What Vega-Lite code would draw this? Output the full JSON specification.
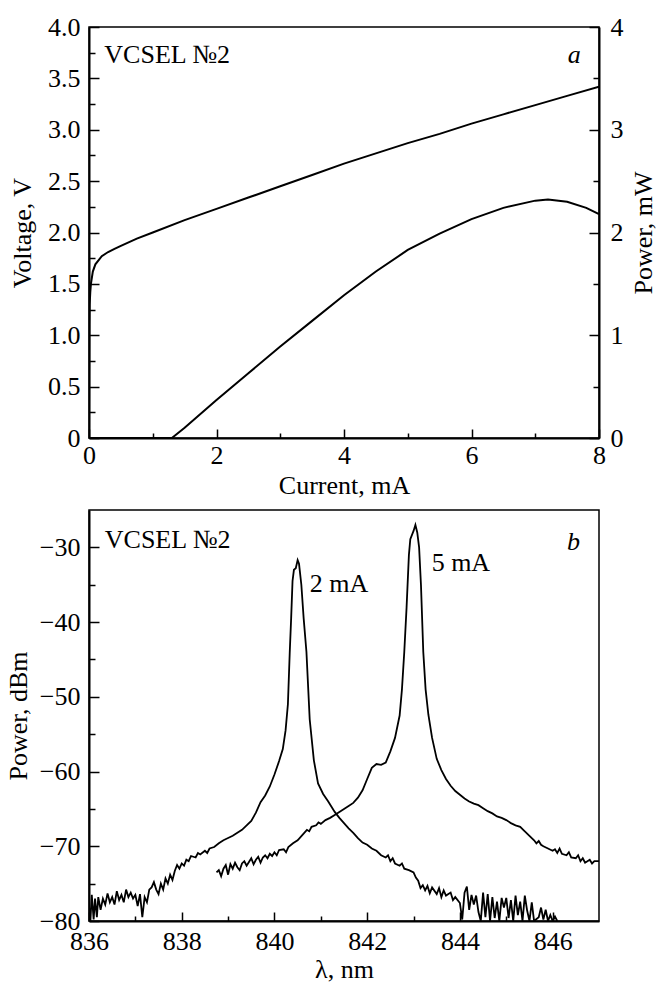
{
  "$schema": "https://vega.github.io/schema/vega-lite/v6.json",
  "autosize": {"type": "pad"},
  "padding": {"left": 4, "top": 13, "right": 0, "bottom": 0},
  "background": "white",
  "spacing": 72,
  "bounds": "flush",
  "config": {
    "font": "Liberation Serif",
    "view": {"stroke": "black", "strokeWidth": 1.5},
    "axis": {
      "domainColor": "black", "domainWidth": 2, "tickColor": "black", "tickWidth": 1.5,
      "labelFont": "Liberation Serif", "labelFontSize": 26, "labelColor": "black",
      "titleFont": "Liberation Serif", "titleFontSize": 26, "titleFontWeight": "normal", "titleColor": "black",
      "grid": false
    },
    "line": {"color": "black", "strokeWidth": 2},
    "text": {"font": "Liberation Serif", "fontSize": 26, "color": "black"}
  },
  "datasets": {
    "voltage": [
      {"current": 0, "voltage": 0}, {"current": 0.003, "voltage": 0.6}, {"current": 0.006, "voltage": 1.1},
      {"current": 0.01, "voltage": 1.3}, {"current": 0.02, "voltage": 1.42}, {"current": 0.03, "voltage": 1.5},
      {"current": 0.06, "voltage": 1.62}, {"current": 0.1, "voltage": 1.69}, {"current": 0.2, "voltage": 1.77},
      {"current": 0.3, "voltage": 1.81}, {"current": 0.4, "voltage": 1.84}, {"current": 0.5, "voltage": 1.87},
      {"current": 0.75, "voltage": 1.94}, {"current": 1, "voltage": 2.0}, {"current": 1.5, "voltage": 2.12},
      {"current": 2, "voltage": 2.23}, {"current": 2.5, "voltage": 2.34}, {"current": 3, "voltage": 2.45},
      {"current": 3.5, "voltage": 2.56}, {"current": 4, "voltage": 2.67}, {"current": 4.5, "voltage": 2.77},
      {"current": 5, "voltage": 2.87}, {"current": 5.5, "voltage": 2.96}, {"current": 6, "voltage": 3.06},
      {"current": 6.5, "voltage": 3.15}, {"current": 7, "voltage": 3.24}, {"current": 7.5, "voltage": 3.33},
      {"current": 8, "voltage": 3.42}
    ],
    "power": [
      {"current": 0, "power": 0}, {"current": 0.5, "power": 0}, {"current": 1.0, "power": 0}, {"current": 1.3, "power": 0},
      {"current": 1.5, "power": 0.1}, {"current": 2, "power": 0.37}, {"current": 2.5, "power": 0.63},
      {"current": 3, "power": 0.89}, {"current": 3.5, "power": 1.14}, {"current": 4, "power": 1.39},
      {"current": 4.5, "power": 1.62}, {"current": 5, "power": 1.83}, {"current": 5.5, "power": 1.99},
      {"current": 6, "power": 2.13}, {"current": 6.5, "power": 2.24}, {"current": 7, "power": 2.31},
      {"current": 7.2, "power": 2.32}, {"current": 7.5, "power": 2.3}, {"current": 7.8, "power": 2.24},
      {"current": 8, "power": 2.18}
    ],
    "toplabels": [
      {"x": 0.24, "y": 3.65, "t": "VCSEL №2"}
    ],
    "topitalic": [
      {"x": 7.61, "y": 3.65, "t": "a"}
    ],
    "botlabels": [
      {"x": 836.34, "y": -30.1, "t": "VCSEL №2"},
      {"x": 840.76, "y": -36, "t": "2 mA"},
      {"x": 843.39, "y": -33.1, "t": "5 mA"}
    ],
    "botitalic": [
      {"x": 846.45, "y": -30.3, "t": "b"}
    ],
    "spectra": [
      {"s": "2 mA", "l": 836.0, "p": -78}, {"s": "2 mA", "l": 836.03, "p": -80}, {"s": "2 mA", "l": 836.06, "p": -76.5},
      {"s": "2 mA", "l": 836.1, "p": -79.8}, {"s": "2 mA", "l": 836.13, "p": -77}, {"s": "2 mA", "l": 836.17, "p": -79.5},
      {"s": "2 mA", "l": 836.2, "p": -76.8}, {"s": "2 mA", "l": 836.25, "p": -78.5}, {"s": "2 mA", "l": 836.3, "p": -77},
      {"s": "2 mA", "l": 836.35, "p": -77.8}, {"s": "2 mA", "l": 836.4, "p": -76.3}, {"s": "2 mA", "l": 836.45, "p": -77.5},
      {"s": "2 mA", "l": 836.5, "p": -76.8}, {"s": "2 mA", "l": 836.55, "p": -77.8}, {"s": "2 mA", "l": 836.6, "p": -76},
      {"s": "2 mA", "l": 836.65, "p": -77.2}, {"s": "2 mA", "l": 836.7, "p": -76.5}, {"s": "2 mA", "l": 836.75, "p": -77.5},
      {"s": "2 mA", "l": 836.8, "p": -75.8}, {"s": "2 mA", "l": 836.85, "p": -76.8}, {"s": "2 mA", "l": 836.9, "p": -76.2},
      {"s": "2 mA", "l": 836.95, "p": -77}, {"s": "2 mA", "l": 837.0, "p": -76.5}, {"s": "2 mA", "l": 837.05, "p": -78},
      {"s": "2 mA", "l": 837.1, "p": -76.4}, {"s": "2 mA", "l": 837.15, "p": -79.5}, {"s": "2 mA", "l": 837.2, "p": -76.8},
      {"s": "2 mA", "l": 837.25, "p": -77.5}, {"s": "2 mA", "l": 837.3, "p": -75.8}, {"s": "2 mA", "l": 837.35, "p": -75.5},
      {"s": "2 mA", "l": 837.4, "p": -74.8}, {"s": "2 mA", "l": 837.45, "p": -75.8}, {"s": "2 mA", "l": 837.5, "p": -76.4},
      {"s": "2 mA", "l": 837.55, "p": -75}, {"s": "2 mA", "l": 837.6, "p": -75.8}, {"s": "2 mA", "l": 837.65, "p": -74.3},
      {"s": "2 mA", "l": 837.7, "p": -75}, {"s": "2 mA", "l": 837.75, "p": -73.8}, {"s": "2 mA", "l": 837.8, "p": -74.5},
      {"s": "2 mA", "l": 837.85, "p": -73.3}, {"s": "2 mA", "l": 837.9, "p": -72.5}, {"s": "2 mA", "l": 837.95, "p": -73},
      {"s": "2 mA", "l": 838.0, "p": -72.3}, {"s": "2 mA", "l": 838.05, "p": -72.6}, {"s": "2 mA", "l": 838.1, "p": -71.8},
      {"s": "2 mA", "l": 838.15, "p": -72}, {"s": "2 mA", "l": 838.2, "p": -71.3}, {"s": "2 mA", "l": 838.3, "p": -71.5},
      {"s": "2 mA", "l": 838.35, "p": -70.9}, {"s": "2 mA", "l": 838.4, "p": -71.1}, {"s": "2 mA", "l": 838.5, "p": -70.6},
      {"s": "2 mA", "l": 838.55, "p": -70.9}, {"s": "2 mA", "l": 838.6, "p": -70.3}, {"s": "2 mA", "l": 838.7, "p": -70.1},
      {"s": "2 mA", "l": 838.8, "p": -69.6}, {"s": "2 mA", "l": 838.9, "p": -69.2}, {"s": "2 mA", "l": 839.0, "p": -68.9},
      {"s": "2 mA", "l": 839.1, "p": -68.6}, {"s": "2 mA", "l": 839.2, "p": -68.2}, {"s": "2 mA", "l": 839.3, "p": -67.8},
      {"s": "2 mA", "l": 839.4, "p": -67.2}, {"s": "2 mA", "l": 839.5, "p": -66.6}, {"s": "2 mA", "l": 839.6, "p": -65.5},
      {"s": "2 mA", "l": 839.7, "p": -64.1}, {"s": "2 mA", "l": 839.8, "p": -63.2}, {"s": "2 mA", "l": 839.9, "p": -62},
      {"s": "2 mA", "l": 840.0, "p": -60.4}, {"s": "2 mA", "l": 840.1, "p": -58.6}, {"s": "2 mA", "l": 840.18, "p": -57},
      {"s": "2 mA", "l": 840.24, "p": -54.5}, {"s": "2 mA", "l": 840.29, "p": -51}, {"s": "2 mA", "l": 840.33, "p": -44},
      {"s": "2 mA", "l": 840.36, "p": -39.5}, {"s": "2 mA", "l": 840.39, "p": -34.5}, {"s": "2 mA", "l": 840.42, "p": -33},
      {"s": "2 mA", "l": 840.46, "p": -32.8}, {"s": "2 mA", "l": 840.5, "p": -31.7}, {"s": "2 mA", "l": 840.53, "p": -32.2},
      {"s": "2 mA", "l": 840.58, "p": -35}, {"s": "2 mA", "l": 840.63, "p": -39.5}, {"s": "2 mA", "l": 840.69, "p": -44},
      {"s": "2 mA", "l": 840.76, "p": -53}, {"s": "2 mA", "l": 840.85, "p": -58.5}, {"s": "2 mA", "l": 840.94, "p": -61.6},
      {"s": "2 mA", "l": 841.05, "p": -63}, {"s": "2 mA", "l": 841.16, "p": -64}, {"s": "2 mA", "l": 841.3, "p": -65.4},
      {"s": "2 mA", "l": 841.4, "p": -66.2}, {"s": "2 mA", "l": 841.5, "p": -66.9}, {"s": "2 mA", "l": 841.6, "p": -67.6},
      {"s": "2 mA", "l": 841.7, "p": -68.2}, {"s": "2 mA", "l": 841.8, "p": -68.9}, {"s": "2 mA", "l": 841.9, "p": -69.5},
      {"s": "2 mA", "l": 842.0, "p": -69.8}, {"s": "2 mA", "l": 842.1, "p": -70.3}, {"s": "2 mA", "l": 842.2, "p": -70.6},
      {"s": "2 mA", "l": 842.3, "p": -71.2}, {"s": "2 mA", "l": 842.4, "p": -71.5}, {"s": "2 mA", "l": 842.45, "p": -71.2},
      {"s": "2 mA", "l": 842.5, "p": -72}, {"s": "2 mA", "l": 842.55, "p": -71.6}, {"s": "2 mA", "l": 842.6, "p": -72.3},
      {"s": "2 mA", "l": 842.7, "p": -72.6}, {"s": "2 mA", "l": 842.75, "p": -72.3}, {"s": "2 mA", "l": 842.8, "p": -73},
      {"s": "2 mA", "l": 842.9, "p": -73.2}, {"s": "2 mA", "l": 843.0, "p": -73.5}, {"s": "2 mA", "l": 843.05, "p": -74.2},
      {"s": "2 mA", "l": 843.1, "p": -74.6}, {"s": "2 mA", "l": 843.15, "p": -75.6}, {"s": "2 mA", "l": 843.2, "p": -75.2},
      {"s": "2 mA", "l": 843.25, "p": -75.9}, {"s": "2 mA", "l": 843.3, "p": -75.3}, {"s": "2 mA", "l": 843.35, "p": -76.3},
      {"s": "2 mA", "l": 843.4, "p": -75.5}, {"s": "2 mA", "l": 843.5, "p": -76.4}, {"s": "2 mA", "l": 843.55, "p": -75.6},
      {"s": "2 mA", "l": 843.6, "p": -76.8}, {"s": "2 mA", "l": 843.65, "p": -75.9}, {"s": "2 mA", "l": 843.7, "p": -76.6},
      {"s": "2 mA", "l": 843.8, "p": -76.2}, {"s": "2 mA", "l": 843.85, "p": -77.2}, {"s": "2 mA", "l": 843.9, "p": -76.8},
      {"s": "2 mA", "l": 844.0, "p": -77.6}, {"s": "2 mA", "l": 844.05, "p": -79.8}, {"s": "2 mA", "l": 844.1, "p": -76.2},
      {"s": "2 mA", "l": 844.15, "p": -75.4}, {"s": "2 mA", "l": 844.2, "p": -78.5}, {"s": "2 mA", "l": 844.25, "p": -76.5},
      {"s": "2 mA", "l": 844.3, "p": -77.8}, {"s": "2 mA", "l": 844.35, "p": -76.6}, {"s": "2 mA", "l": 844.4, "p": -78.8},
      {"s": "2 mA", "l": 844.45, "p": -80}, {"s": "2 mA", "l": 844.5, "p": -76.2}, {"s": "2 mA", "l": 844.55, "p": -79.5},
      {"s": "2 mA", "l": 844.6, "p": -76.4}, {"s": "2 mA", "l": 844.65, "p": -80}, {"s": "2 mA", "l": 844.7, "p": -76.8},
      {"s": "2 mA", "l": 844.75, "p": -79.6}, {"s": "2 mA", "l": 844.8, "p": -77.4}, {"s": "2 mA", "l": 844.85, "p": -80},
      {"s": "2 mA", "l": 844.9, "p": -76.9}, {"s": "2 mA", "l": 844.95, "p": -78.2}, {"s": "2 mA", "l": 845.0, "p": -76.9},
      {"s": "2 mA", "l": 845.05, "p": -79.6}, {"s": "2 mA", "l": 845.1, "p": -77.2}, {"s": "2 mA", "l": 845.15, "p": -80},
      {"s": "2 mA", "l": 845.2, "p": -76.6}, {"s": "2 mA", "l": 845.25, "p": -79.2}, {"s": "2 mA", "l": 845.3, "p": -77.4},
      {"s": "2 mA", "l": 845.35, "p": -80}, {"s": "2 mA", "l": 845.4, "p": -76.6}, {"s": "2 mA", "l": 845.45, "p": -78.6},
      {"s": "2 mA", "l": 845.5, "p": -80}, {"s": "2 mA", "l": 845.55, "p": -77.5}, {"s": "2 mA", "l": 845.6, "p": -80},
      {"s": "2 mA", "l": 845.7, "p": -79.5}, {"s": "2 mA", "l": 845.75, "p": -78.2}, {"s": "2 mA", "l": 845.8, "p": -79.8},
      {"s": "2 mA", "l": 845.85, "p": -78.5}, {"s": "2 mA", "l": 845.9, "p": -80}, {"s": "2 mA", "l": 845.95, "p": -79.2},
      {"s": "2 mA", "l": 846.0, "p": -80}, {"s": "2 mA", "l": 846.05, "p": -79.4}, {"s": "2 mA", "l": 846.1, "p": -80},

      {"s": "5 mA", "l": 838.75, "p": -73.5}, {"s": "5 mA", "l": 838.8, "p": -73.2}, {"s": "5 mA", "l": 838.85, "p": -74},
      {"s": "5 mA", "l": 838.9, "p": -73}, {"s": "5 mA", "l": 838.95, "p": -72.5}, {"s": "5 mA", "l": 839.0, "p": -73.8},
      {"s": "5 mA", "l": 839.05, "p": -72.4}, {"s": "5 mA", "l": 839.1, "p": -73}, {"s": "5 mA", "l": 839.15, "p": -72.2},
      {"s": "5 mA", "l": 839.2, "p": -72.8}, {"s": "5 mA", "l": 839.25, "p": -73.2}, {"s": "5 mA", "l": 839.3, "p": -72.3},
      {"s": "5 mA", "l": 839.35, "p": -72}, {"s": "5 mA", "l": 839.4, "p": -72.6}, {"s": "5 mA", "l": 839.45, "p": -72.1},
      {"s": "5 mA", "l": 839.5, "p": -71.6}, {"s": "5 mA", "l": 839.55, "p": -72.4}, {"s": "5 mA", "l": 839.6, "p": -71.8},
      {"s": "5 mA", "l": 839.65, "p": -71.4}, {"s": "5 mA", "l": 839.7, "p": -72.2}, {"s": "5 mA", "l": 839.75, "p": -71.5},
      {"s": "5 mA", "l": 839.8, "p": -71.2}, {"s": "5 mA", "l": 839.85, "p": -71.6}, {"s": "5 mA", "l": 839.9, "p": -71.0},
      {"s": "5 mA", "l": 839.95, "p": -71.3}, {"s": "5 mA", "l": 840.0, "p": -70.8}, {"s": "5 mA", "l": 840.05, "p": -71.2},
      {"s": "5 mA", "l": 840.1, "p": -70.5}, {"s": "5 mA", "l": 840.2, "p": -70.4}, {"s": "5 mA", "l": 840.25, "p": -70.8},
      {"s": "5 mA", "l": 840.3, "p": -70.1}, {"s": "5 mA", "l": 840.4, "p": -69.6}, {"s": "5 mA", "l": 840.5, "p": -69.2},
      {"s": "5 mA", "l": 840.6, "p": -68.5}, {"s": "5 mA", "l": 840.7, "p": -67.8}, {"s": "5 mA", "l": 840.75, "p": -68},
      {"s": "5 mA", "l": 840.8, "p": -67.4}, {"s": "5 mA", "l": 840.9, "p": -67.2}, {"s": "5 mA", "l": 840.95, "p": -66.8},
      {"s": "5 mA", "l": 841.0, "p": -67.0}, {"s": "5 mA", "l": 841.1, "p": -66.5}, {"s": "5 mA", "l": 841.2, "p": -66.2},
      {"s": "5 mA", "l": 841.3, "p": -65.8}, {"s": "5 mA", "l": 841.4, "p": -65.4}, {"s": "5 mA", "l": 841.5, "p": -65.0},
      {"s": "5 mA", "l": 841.6, "p": -64.6}, {"s": "5 mA", "l": 841.7, "p": -64.2}, {"s": "5 mA", "l": 841.8, "p": -63.5},
      {"s": "5 mA", "l": 841.9, "p": -62.5}, {"s": "5 mA", "l": 842.0, "p": -61}, {"s": "5 mA", "l": 842.1, "p": -59.5},
      {"s": "5 mA", "l": 842.2, "p": -59}, {"s": "5 mA", "l": 842.3, "p": -59.1}, {"s": "5 mA", "l": 842.4, "p": -58.8},
      {"s": "5 mA", "l": 842.5, "p": -57.3}, {"s": "5 mA", "l": 842.6, "p": -55.5}, {"s": "5 mA", "l": 842.7, "p": -52.5},
      {"s": "5 mA", "l": 842.75, "p": -49}, {"s": "5 mA", "l": 842.8, "p": -44}, {"s": "5 mA", "l": 842.85, "p": -38},
      {"s": "5 mA", "l": 842.9, "p": -31}, {"s": "5 mA", "l": 842.93, "p": -28.9}, {"s": "5 mA", "l": 843.0, "p": -27.8},
      {"s": "5 mA", "l": 843.04, "p": -27}, {"s": "5 mA", "l": 843.08, "p": -28}, {"s": "5 mA", "l": 843.12, "p": -30},
      {"s": "5 mA", "l": 843.16, "p": -35}, {"s": "5 mA", "l": 843.21, "p": -44}, {"s": "5 mA", "l": 843.26, "p": -49},
      {"s": "5 mA", "l": 843.32, "p": -52.4}, {"s": "5 mA", "l": 843.4, "p": -55.5}, {"s": "5 mA", "l": 843.5, "p": -58.3},
      {"s": "5 mA", "l": 843.6, "p": -59.8}, {"s": "5 mA", "l": 843.7, "p": -61.0}, {"s": "5 mA", "l": 843.8, "p": -61.9},
      {"s": "5 mA", "l": 843.9, "p": -62.6}, {"s": "5 mA", "l": 844.0, "p": -63.1}, {"s": "5 mA", "l": 844.1, "p": -63.6},
      {"s": "5 mA", "l": 844.2, "p": -64.0}, {"s": "5 mA", "l": 844.3, "p": -64.3}, {"s": "5 mA", "l": 844.4, "p": -64.5},
      {"s": "5 mA", "l": 844.5, "p": -64.9}, {"s": "5 mA", "l": 844.6, "p": -65.3}, {"s": "5 mA", "l": 844.7, "p": -65.6},
      {"s": "5 mA", "l": 844.8, "p": -66.0}, {"s": "5 mA", "l": 844.9, "p": -66.2}, {"s": "5 mA", "l": 845.0, "p": -66.5},
      {"s": "5 mA", "l": 845.1, "p": -66.9}, {"s": "5 mA", "l": 845.2, "p": -67.2}, {"s": "5 mA", "l": 845.3, "p": -67.4},
      {"s": "5 mA", "l": 845.4, "p": -68.0}, {"s": "5 mA", "l": 845.5, "p": -68.6}, {"s": "5 mA", "l": 845.6, "p": -69.2},
      {"s": "5 mA", "l": 845.65, "p": -69.6}, {"s": "5 mA", "l": 845.7, "p": -69.3}, {"s": "5 mA", "l": 845.75, "p": -69.8},
      {"s": "5 mA", "l": 845.8, "p": -70.0}, {"s": "5 mA", "l": 845.9, "p": -70.3}, {"s": "5 mA", "l": 846.0, "p": -70.6},
      {"s": "5 mA", "l": 846.05, "p": -70.4}, {"s": "5 mA", "l": 846.1, "p": -70.9}, {"s": "5 mA", "l": 846.15, "p": -70.3},
      {"s": "5 mA", "l": 846.2, "p": -71}, {"s": "5 mA", "l": 846.3, "p": -71.2}, {"s": "5 mA", "l": 846.35, "p": -70.8},
      {"s": "5 mA", "l": 846.4, "p": -71.5}, {"s": "5 mA", "l": 846.5, "p": -71.6}, {"s": "5 mA", "l": 846.55, "p": -71.2},
      {"s": "5 mA", "l": 846.6, "p": -72.0}, {"s": "5 mA", "l": 846.65, "p": -71.6}, {"s": "5 mA", "l": 846.7, "p": -72.2},
      {"s": "5 mA", "l": 846.8, "p": -71.8}, {"s": "5 mA", "l": 846.85, "p": -72.3}, {"s": "5 mA", "l": 846.9, "p": -72.0},
      {"s": "5 mA", "l": 847.0, "p": -72.0}
    ]
  },
  "vconcat": [
    {
      "width": 510,
      "height": 411,
      "layer": [
        {
          "data": {"name": "voltage"},
          "mark": {"type": "line", "clip": true},
          "encoding": {
            "x": {"field": "current", "type": "quantitative",
              "scale": {"domain": [0, 8], "nice": false},
              "axis": {"title": "Current, mA", "values": [0, 1, 2, 3, 4, 5, 6, 7, 8],
                "labelExpr": "datum.value % 2 == 0 ? format(datum.value, 'd') : ''",
                "tickSize": {"condition": {"test": "datum.value % 2 == 0", "value": -9}, "value": -5},
                "labelPadding": 13, "titlePadding": 4, "labelFlush": false}},
            "y": {"field": "voltage", "type": "quantitative",
              "scale": {"domain": [0, 4], "nice": false},
              "axis": {"title": "Voltage, V", "orient": "left",
                "values": [0, 0.25, 0.5, 0.75, 1, 1.25, 1.5, 1.75, 2, 2.25, 2.5, 2.75, 3, 3.25, 3.5, 3.75, 4],
                "labelExpr": "datum.value == 0 ? '0' : ((datum.value * 2) % 1 == 0 ? format(datum.value, '.1f') : '')",
                "tickSize": {"condition": {"test": "(datum.value * 2) % 1 == 0", "value": -10}, "value": -6},
                "labelPadding": 19, "titlePadding": 12, "labelFlush": false}}
          }
        },
        {
          "data": {"name": "power"},
          "mark": {"type": "line", "clip": true},
          "encoding": {
            "x": {"field": "current", "type": "quantitative"},
            "y": {"field": "power", "type": "quantitative",
              "scale": {"domain": [0, 4], "nice": false},
              "axis": {"title": "Power, mW", "orient": "right",
                "values": [0, 0.5, 1, 1.5, 2, 2.5, 3, 3.5, 4],
                "labelExpr": "datum.value % 1 == 0 ? format(datum.value, 'd') : ''",
                "tickSize": {"condition": {"test": "datum.value % 1 == 0", "value": -10}, "value": -6},
                "labelPadding": 21, "titlePadding": 7, "titleAngle": 270, "titleBaseline": "top", "labelFlush": false}}
          }
        },
        {
          "data": {"name": "toplabels"},
          "mark": {"type": "text", "align": "left", "baseline": "alphabetic"},
          "encoding": {
            "x": {"field": "x", "type": "quantitative"},
            "y": {"field": "y", "type": "quantitative", "scale": {"domain": [0, 4], "nice": false}, "axis": null},
            "text": {"field": "t"}
          }
        },
        {
          "data": {"name": "topitalic"},
          "mark": {"type": "text", "align": "center", "baseline": "alphabetic", "fontStyle": "italic"},
          "encoding": {
            "x": {"field": "x", "type": "quantitative"},
            "y": {"field": "y", "type": "quantitative", "scale": {"domain": [0, 4], "nice": false}, "axis": null},
            "text": {"field": "t"}
          }
        }
      ],
      "resolve": {"scale": {"y": "independent"}}
    },
    {
      "width": 510,
      "height": 411,
      "layer": [
        {
          "data": {"name": "spectra"},
          "mark": {"type": "line", "clip": true, "strokeWidth": 1.8},
          "encoding": {
            "x": {"field": "l", "type": "quantitative",
              "scale": {"domain": [836, 847], "nice": false},
              "axis": {"title": "λ, nm", "values": [836, 837, 838, 839, 840, 841, 842, 843, 844, 845, 846],
                "labelExpr": "datum.value % 2 == 0 ? format(datum.value, 'd') : ''",
                "tickSize": {"condition": {"test": "datum.value % 2 == 0", "value": -9}, "value": -5},
                "labelPadding": 16, "titlePadding": 2, "labelFlush": false}},
            "y": {"field": "p", "type": "quantitative",
              "scale": {"domain": [-80, -25], "nice": false},
              "axis": {"title": "Power, dBm",
                "values": [-80, -75, -70, -65, -60, -55, -50, -45, -40, -35, -30],
                "labelExpr": "datum.value % 10 == 0 ? format(datum.value, 'd') : ''",
                "tickSize": {"condition": {"test": "datum.value % 10 == 0", "value": -10}, "value": -6},
                "labelPadding": 19, "titlePadding": 8, "labelFlush": false}},
            "detail": {"field": "s"}
          }
        },
        {
          "data": {"name": "botlabels"},
          "mark": {"type": "text", "align": "left", "baseline": "alphabetic"},
          "encoding": {
            "x": {"field": "x", "type": "quantitative"},
            "y": {"field": "y", "type": "quantitative"},
            "text": {"field": "t"}
          }
        },
        {
          "data": {"name": "botitalic"},
          "mark": {"type": "text", "align": "center", "baseline": "alphabetic", "fontStyle": "italic"},
          "encoding": {
            "x": {"field": "x", "type": "quantitative"},
            "y": {"field": "y", "type": "quantitative"},
            "text": {"field": "t"}
          }
        }
      ]
    }
  ]
}
